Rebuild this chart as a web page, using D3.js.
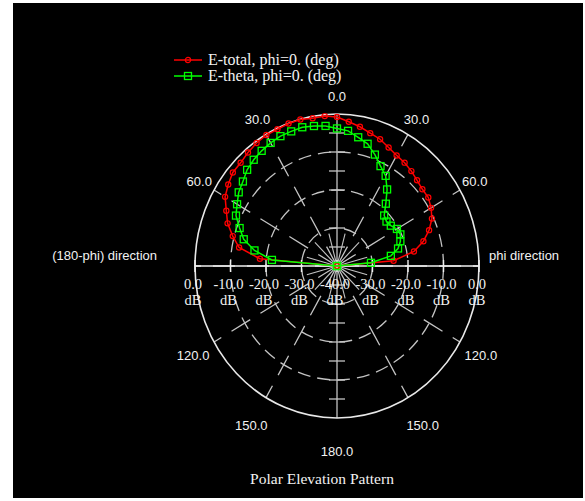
<!DOCTYPE html>
<html>
<head>
<meta charset="utf-8">
<script src="https://cdn.jsdelivr.net/npm/d3@7"></script>
<style>
body { margin: 0; background: #fff; }
</style>
</head>
<body>
<div id="chart"></div>
<script>
// elevation angle theta (deg), negative = (180-phi) side
const thetaDeg = [-90, -85, -80, -75, -70, -65, -60, -55, -50, -45, -40, -35, -30, -25, -20, -15, -10, -5,
    0, 5, 10, 15, 20, 25, 30, 35, 40, 45, 50, 55, 60, 65, 70, 75, 80, 85, 90];

// E-total, phi=0 (dB)
const eTotalDb = [-40, -18.2, -12.0, -9.6, -7.2, -5.6, -3.6, -2.6, -1.7, -1.6, -1.0, -0.5, -0.2, -0.3, -0.1, -0.1, -0.5, -0.4,
    -0.8, -1.9, -2.8, -3.8, -4.5, -5.6, -6.4, -6.8, -7.4, -8.1, -8.6, -8.6, -9.4, -10.5, -12.4, -14.8, -18.0, -24.0, -40];

// E-theta, phi=0 (dB)
const eThetaDb = [-40, -21.6, -16.4, -12.8, -10.8, -8.6, -7.5, -6.2, -5.4, -4.2, -3.5, -3.0, -2.6, -2.3, -2.3, -2.2, -2.6, -3.0,
    -3.8, -4.3, -5.6, -6.7, -8.8, -11.0, -12.6, -15.4, -18.6, -21.2, -21.8, -21.5, -20.5, -20.3, -21.0, -22.2, -24.6, -30.4, -40];

const ringDb = [-30, -20, -10];
const dbTicks = [0, -10, -20, -30, -40, -30, -20, -10, 0];
const dbTickLabels = ["0.0", "-10.0", "-20.0", "-30.0", "-40.0", "-30.0", "-20.0", "-10.0", "0.0"];
const angleLabelDeg = [0, -30, 30, -60, 60, -120, 120, -150, 150, 180];
const angleLabels = ["0.0", "30.0", "30.0", "60.0", "60.0", "120.0", "120.0", "150.0", "150.0", "180.0"];
const spokeDeg = [0, 30, 60, 90, 120, 150, 180, 210, 240, 270, 300, 330];
const innerSpokeDeg = [15, 45, 75, 105, 135, 165, 195, 225, 255, 285, 315, 345];

const seriesNames = ["E-total, phi=0. (deg)", "E-theta, phi=0. (deg)"];

const width = 585, height = 501;
const cx = 337, cy = 266, rx = 142, ry = 152;

const svg = d3.select("#chart").append("svg")
    .attr("width", width)
    .attr("height", height);

svg.append("rect")
    .attr("x", 13).attr("y", 3)
    .attr("width", 570).attr("height", 495)
    .attr("fill", "#000");

// radial scale: dB -> 0..1 of outer ellipse
const rScale = d3.scaleLinear().domain([-40, 0]).range([0, 1]).clamp(true);
const aScale = d3.scaleLinear().domain([0, 180]).range([0, Math.PI]);

const px = (deg, r) => cx + r * rx * Math.sin(aScale(deg));
const py = (deg, r) => cy - r * ry * Math.cos(aScale(deg));

const grid = svg.append("g");

// dashed rings
ringDb.forEach(db => {
    grid.append("ellipse")
        .attr("cx", cx).attr("cy", cy)
        .attr("rx", rScale(db) * rx).attr("ry", rScale(db) * ry)
        .attr("fill", "none")
        .attr("stroke", "#c4c4c4")
        .attr("stroke-width", 1.3)
        .attr("stroke-dasharray", "13,7");
});

// dashed spokes
spokeDeg.forEach(a => {
    grid.append("line")
        .attr("x1", cx).attr("y1", cy)
        .attr("x2", px(a, 1)).attr("y2", py(a, 1))
        .attr("stroke", "#c4c4c4")
        .attr("stroke-width", 1.3)
        .attr("stroke-dasharray", a % 180 === 0 ? "none" : "22,12");
});
innerSpokeDeg.forEach(a => {
    grid.append("line")
        .attr("x1", cx).attr("y1", cy)
        .attr("x2", px(a, 0.22)).attr("y2", py(a, 0.22))
        .attr("stroke", "#c4c4c4")
        .attr("stroke-width", 1.1);
});

// crosses along the vertical spoke
ringDb.concat([-35, -25, -15, -5]).forEach(db => {
    [0, 180].forEach(a => {
        grid.append("line")
            .attr("x1", cx - 8).attr("x2", cx + 8)
            .attr("y1", py(a, rScale(db))).attr("y2", py(a, rScale(db)))
            .attr("stroke", "#c4c4c4")
            .attr("stroke-width", 1.3);
    });
});

// outer boundary
grid.append("ellipse")
    .attr("cx", cx).attr("cy", cy)
    .attr("rx", rx).attr("ry", ry)
    .attr("fill", "none")
    .attr("stroke", "#e8e8e8")
    .attr("stroke-width", 1.6);

// horizontal dB axis
grid.append("line")
    .attr("x1", cx - rx).attr("x2", cx + rx)
    .attr("y1", cy).attr("y2", cy)
    .attr("stroke", "#f0f0f0")
    .attr("stroke-width", 1.6);

const xTick = (db, i) => cx + (i < 4 ? -1 : 1) * rScale(db) * rx;

grid.selectAll(".tick").data(dbTicks).enter().append("line")
    .attr("x1", (d, i) => xTick(d, i)).attr("x2", (d, i) => xTick(d, i))
    .attr("y1", cy - 6).attr("y2", cy + 6)
    .attr("stroke", "#f0f0f0")
    .attr("stroke-width", 1.4);

const labelFill = "#f2f2f2";

grid.selectAll(".dblab").data(dbTicks).enter().append("text")
    .attr("x", (d, i) => xTick(d, i) - 2)
    .attr("y", cy + 23)
    .attr("text-anchor", "middle")
    .style("font-family", "Liberation Serif, serif")
    .style("font-size", "14.5px")
    .style("fill", labelFill)
    .text((d, i) => dbTickLabels[i]);

grid.selectAll(".dbunit").data(dbTicks).enter().append("text")
    .attr("x", (d, i) => xTick(d, i) - 2)
    .attr("y", cy + 39)
    .attr("text-anchor", "middle")
    .style("font-family", "Liberation Serif, serif")
    .style("font-size", "14.5px")
    .style("fill", labelFill)
    .text("dB");

// angle labels
grid.selectAll(".alab").data(angleLabelDeg).enter().append("text")
    .attr("x", d => px(d, 1.12 - 0.1 * Math.min(0, Math.cos(aScale(d)))))
    .attr("y", d => py(d, 1.12 - 0.1 * Math.min(0, Math.cos(aScale(d)))) + 5)
    .attr("text-anchor", "middle")
    .style("font-family", "Liberation Sans, Arial, sans-serif")
    .style("font-size", "13px")
    .style("fill", labelFill)
    .text((d, i) => angleLabels[i]);

svg.append("text")
    .attr("x", 157).attr("y", 260)
    .attr("text-anchor", "end")
    .style("font-family", "Liberation Sans, Arial, sans-serif")
    .style("font-size", "13px")
    .style("fill", labelFill)
    .text("(180-phi) direction");

svg.append("text")
    .attr("x", 489).attr("y", 260)
    .style("font-family", "Liberation Sans, Arial, sans-serif")
    .style("font-size", "13px")
    .style("fill", labelFill)
    .text("phi direction");

svg.append("text")
    .attr("x", 322).attr("y", 484)
    .attr("text-anchor", "middle")
    .style("font-family", "Liberation Serif, serif")
    .style("font-size", "15.5px")
    .style("fill", labelFill)
    .text("Polar Elevation Pattern");

// curves
const line = d3.line()
    .x((d, i) => px(thetaDeg[i], rScale(d)))
    .y((d, i) => py(thetaDeg[i], rScale(d)));

const red = "#ff0000", green = "#00ff00";

svg.append("path").datum(eTotalDb)
    .attr("d", line)
    .attr("fill", "none")
    .attr("stroke", red)
    .attr("stroke-width", 1.5);

svg.append("g").selectAll("circle").data(eTotalDb).enter().append("circle")
    .attr("cx", (d, i) => px(thetaDeg[i], rScale(d)))
    .attr("cy", (d, i) => py(thetaDeg[i], rScale(d)))
    .attr("r", 2.6)
    .attr("fill", "none")
    .attr("stroke", red)
    .attr("stroke-width", 1.2);

svg.append("path").datum(eThetaDb)
    .attr("d", line)
    .attr("fill", "none")
    .attr("stroke", green)
    .attr("stroke-width", 1.5);

svg.append("g").selectAll("rect").data(eThetaDb).enter().append("rect")
    .attr("x", (d, i) => px(thetaDeg[i], rScale(d)) - 3.5)
    .attr("y", (d, i) => py(thetaDeg[i], rScale(d)) - 3.5)
    .attr("width", 7).attr("height", 7)
    .attr("fill", "none")
    .attr("stroke", green)
    .attr("stroke-width", 1.3);

// legend
const legend = svg.append("g").attr("transform", "translate(174, 60)");
const legendColors = [red, green];
seriesNames.forEach((name, i) => {
    const g = legend.append("g").attr("transform", `translate(0, ${i * 16})`);
    g.append("line")
        .attr("x1", 0).attr("x2", 28).attr("y1", 0).attr("y2", 0)
        .attr("stroke", legendColors[i]).attr("stroke-width", 1.5);
    if (i === 0) {
        g.append("circle").attr("cx", 14).attr("cy", 0).attr("r", 2.6)
            .attr("fill", "none").attr("stroke", red).attr("stroke-width", 1.2);
    } else {
        g.append("rect").attr("x", 10.5).attr("y", -3.5).attr("width", 7).attr("height", 7)
            .attr("fill", "none").attr("stroke", green).attr("stroke-width", 1.3);
    }
    g.append("text")
        .attr("x", 34).attr("y", 5)
        .style("font-family", "Liberation Serif, serif")
        .style("font-size", "16px")
        .style("fill", labelFill)
        .text(name);
});
</script>
</body>
</html>
